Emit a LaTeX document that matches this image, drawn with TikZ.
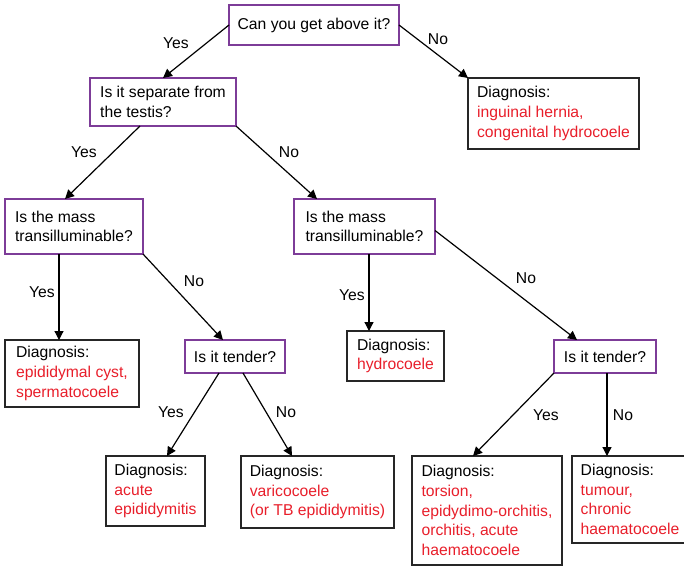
\documentclass[tikz,border=0pt]{standalone}
\usepackage{fontspec}
\setmainfont{Liberation Sans}
\usetikzlibrary{arrows.meta,calc}
\definecolor{qpurple}{RGB}{125,60,152}
\definecolor{dred}{RGB}{232,30,42}
\tikzset{
  base/.style={align=left, inner sep=0pt, outer sep=0pt, font=\fontsize{15.7}{19.6}\selectfont},
  qbox/.style={base, draw=qpurple, line width=2pt},
  dbox/.style={base, draw=black!85, line width=1.5pt},
  conn/.style={line width=1.2pt, -{Triangle[length=9pt,width=9pt]}},
  lab/.style={font=\fontsize{15.7}{19.6}\selectfont, inner sep=0pt},
}
\newcommand{\dx}[1]{\textcolor{dred}{#1}}
\begin{document}
\begin{tikzpicture}[x=1pt,y=-1pt]
\useasboundingbox (0,0) rectangle (684,566);
\node[qbox, minimum width=170, minimum height=40] (top) at (314,25) {Can you get above it?};
\node[qbox, minimum width=146, minimum height=48] (sep) at (163,102) {Is it separate from\\the testis?};
\node[dbox, minimum width=171, minimum height=71] (d1) at (553.5,113.5) {Diagnosis:\\\dx{inguinal hernia,}\\\dx{congenital hydrocoele}};
\node[qbox, minimum width=138, minimum height=55] (t1) at (74,226.5) {Is the mass\\transilluminable?};
\node[qbox, minimum width=141, minimum height=55] (t2) at (364.5,226.5) {Is the mass\\transilluminable?};
\node[dbox, minimum width=134, minimum height=67] (d2) at (72,373.5) {Diagnosis:\\\dx{epididymal cyst,}\\\dx{spermatocoele}};
\node[qbox, minimum width=100, minimum height=33] (k1) at (235,356.5) {Is it tender?};
\node[dbox, minimum width=97, minimum height=50] (d3) at (395.5,356) {Diagnosis:\\\dx{hydrocoele}};
\node[qbox, minimum width=102, minimum height=33] (k2) at (605,356.5) {Is it tender?};
\node[dbox, minimum width=99, minimum height=70] (d4) at (155.5,491) {Diagnosis:\\\dx{acute}\\\dx{epididymitis}};
\node[dbox, minimum width=153, minimum height=72] (d5) at (317.5,492) {Diagnosis:\\\dx{varicocoele}\\\dx{(or TB epididymitis)}};
\node[dbox, minimum width=150, minimum height=109] (d6) at (487,510.5) {Diagnosis:\\\dx{torsion,}\\\dx{epidydimo-orchitis,}\\\dx{orchitis, acute}\\\dx{haematocoele}};
\node[dbox, minimum width=116, minimum height=87] (d7) at (630,499.5) {Diagnosis:\\\dx{tumour,}\\\dx{chronic}\\\dx{haematocoele}};

\draw[conn] (top.west) -- (sep.north);
\draw[conn] (top.east) -- (d1.north west);
\draw[conn] ($(sep.south west)+(50,0)$) -- ($(t1.north west)+(60,0)$);
\draw[conn] (sep.south east) -- ($(t2.north west)+(23,0)$);
\draw[conn] ($(t1.south west)+(54,0)$) -- ($(d2.north west)+(54,0)$);
\draw[conn] (t1.south east) -- ($(k1.north west)+(38,0)$);
\draw[conn] ($(t2.south west)+(75,0)$) -- ($(d3.north west)+(22,0)$);
\draw[conn] ($(t2.east)+(0,4)$) -- ($(k2.north west)+(23,0)$);
\draw[conn] ($(k1.south west)+(34,0)$) -- ($(d4.north west)+(61,0)$);
\draw[conn] ($(k1.south west)+(58,0)$) -- ($(d5.north west)+(51,0)$);
\draw[conn] (k2.south west) -- ($(d6.north west)+(61,0)$);
\draw[conn] ($(k2.south west)+(53,0)$) -- ($(d7.north west)+(35,0)$);

\node[lab] (l1) at (176,43) {Yes};
\node[lab] (l2) at (438,39) {No};
\node[lab] (l3) at (84,152) {Yes};
\node[lab] (l4) at (289,152) {No};
\node[lab] (l5) at (42,292) {Yes};
\node[lab] (l6) at (194,281) {No};
\node[lab] (l7) at (352,295) {Yes};
\node[lab] (l8) at (526,278) {No};
\node[lab] (l9) at (171,412) {Yes};
\node[lab] (l10) at (286,412) {No};
\node[lab] (l11) at (546,415) {Yes};
\node[lab] (l12) at (623,415) {No};
\end{tikzpicture}
\end{document}
